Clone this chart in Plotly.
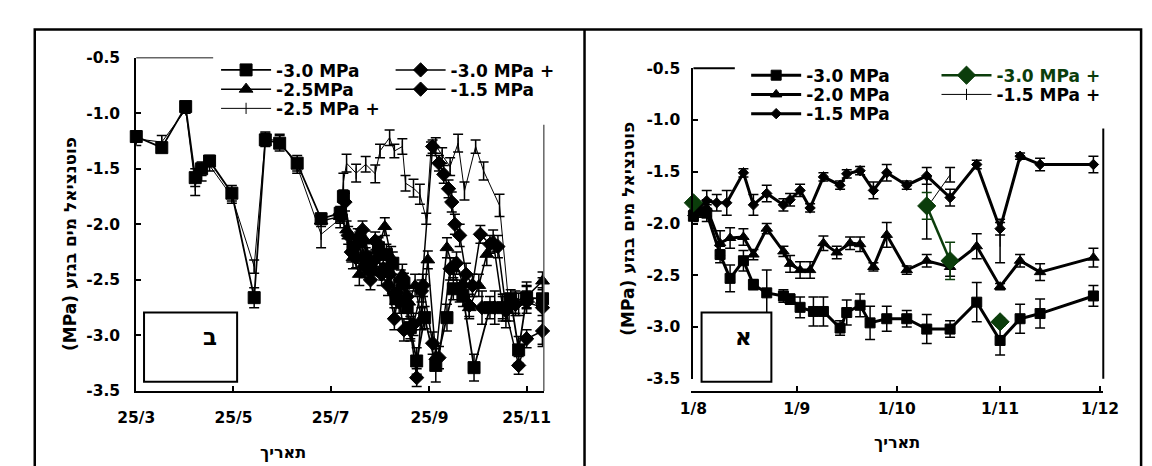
import plotly.graph_objects as go

W, H = 1152, 466
YEAR = "2005-"
FONT = "DejaVu Sans"
BLACK = "#000000"
GREEN = "#0b3d0b"


def px(x):
    return x / W


def py(y):
    return 1 - y / H


def d(lst):
    return [YEAR + s for s in lst]


# ---------------- axis ticks ----------------
y_ticks = [-0.5, -1.0, -1.5, -2.0, -2.5, -3.0, -3.5]
y_labels = ["-0.5", "-1.0", "-1.5", "-2.0", "-2.5", "-3.0", "-3.5"]
left_xticks = ["03-25", "05-25", "07-25", "09-25", "11-25"]
left_xlabels = ["25/3", "25/5", "25/7", "25/9", "25/11"]
right_xticks = ["08-01", "09-01", "10-01", "11-01", "12-01"]
right_xlabels = ["1/8", "1/9", "1/10", "1/11", "1/12"]

# ---------------- left panel (ב) ----------------
s1_name = "-3.0 MPa"
s1_dates = ["03-25", "04-10", "04-25", "05-01", "05-05", "05-10", "05-24", "06-07", "06-14", "06-23",
            "07-04", "07-19", "07-31", "08-02", "08-08", "08-12", "08-16", "08-19", "08-24", "08-29",
            "09-02", "09-04", "09-09", "09-11", "09-13", "09-17", "09-22", "09-29", "10-06", "10-10",
            "10-16", "10-23", "11-02", "11-10", "11-15", "11-20", "11-25", "12-05"]
s1_vals = [-1.21, -1.31, -0.94, -1.58, -1.50, -1.43, -1.72, -2.66, -1.24, -1.27,
           -1.45, -1.95, -1.90, -1.75, -2.21, -2.15, -2.30, -2.41, -2.21, -2.27,
           -2.35, -2.67, -2.53, -2.75, -2.93, -3.23, -2.84, -3.27, -2.84, -2.58,
           -2.64, -3.29, -2.75, -2.75, -2.67, -3.13, -2.66, -2.67]
s1_err = [0.05, 0.03, 0.03, 0.08, 0.06, 0.05, 0.07, 0.09, 0.06, 0.07,
          0.07, 0.05, 0.06, 0.06, 0.10, 0.08, 0.09, 0.10, 0.10, 0.09,
          0.10, 0.08, 0.09, 0.10, 0.10, 0.12, 0.10, 0.15, 0.12, 0.10,
          0.10, 0.12, 0.10, 0.10, 0.08, 0.12, 0.10, 0.10]

s2_name = "-2.5MPa"
s2_dates = ["07-19", "07-31", "08-04", "08-08", "08-12", "08-16", "08-20", "08-24", "08-28", "09-01",
            "09-05", "09-08", "09-12", "09-16", "09-20", "09-24", "09-29", "10-06", "10-10", "10-14",
            "10-20", "10-26", "10-31", "11-04", "11-10", "11-18", "11-25", "12-05"]
s2_vals = [-1.97, -1.93, -2.05, -2.30, -2.45, -2.15, -2.40, -2.20, -2.02, -2.30,
           -2.60, -2.45, -2.70, -2.55, -2.85, -2.32, -3.19, -2.21, -2.40, -2.60,
           -2.75, -2.55, -2.27, -2.15, -2.75, -2.70, -2.65, -2.51]
s2_err = [0.05, 0.06, 0.08, 0.10, 0.10, 0.09, 0.10, 0.08, 0.08, 0.10,
          0.10, 0.09, 0.10, 0.10, 0.10, 0.08, 0.10, 0.09, 0.10, 0.10,
          0.10, 0.10, 0.10, 0.10, 0.12, 0.10, 0.10, 0.08]

s3_name = "-2.5 MPa +"
s3_dates = ["03-25", "04-10", "04-25", "05-01", "05-05", "05-10", "05-24", "06-07", "06-14", "06-23",
            "07-04", "07-19", "07-31", "08-02", "08-04", "08-10", "08-16", "08-22", "08-25", "08-31",
            "09-03", "09-08", "09-10", "09-15", "09-19", "09-23", "09-26", "09-29", "10-03", "10-08",
            "10-13", "10-17", "10-24", "10-29", "11-08", "11-14", "11-20", "11-25", "12-05"]
s3_vals = [-1.23, -1.26, -0.97, -1.65, -1.55, -1.47, -1.75, -2.38, -1.23, -1.25,
           -1.48, -2.09, -1.95, -1.62, -1.45, -1.54, -1.46, -1.545, -1.34, -1.22,
           -1.34, -1.30, -1.63, -1.675, -1.73, -1.95, -1.32, -1.29, -1.38, -1.48,
           -1.27, -1.70, -1.30, -1.52, -1.83, -2.75, -2.72, -2.62, -2.78]
s3_err = [0.06, 0.06, 0.03, 0.09, 0.06, 0.05, 0.06, 0.06, 0.06, 0.06,
          0.06, 0.12, 0.08, 0.08, 0.08, 0.08, 0.07, 0.08, 0.06, 0.07,
          0.06, 0.07, 0.07, 0.08, 0.09, 0.05, 0.06, 0.07, 0.07, 0.08,
          0.08, 0.08, 0.06, 0.08, 0.10, 0.12, 0.10, 0.10, 0.30]

s4_name = "-3.0 MPa +"
s4_dates = ["07-31", "08-03", "08-07", "08-11", "08-15", "08-19", "08-23", "08-27", "08-31", "09-03",
            "09-06", "09-09", "09-13", "09-17", "09-21", "09-27", "10-01", "10-08", "10-12", "10-16",
            "10-20", "10-28", "11-05", "11-12", "11-20", "11-25", "12-05"]
s4_vals = [-1.91, -1.80, -2.25, -2.12, -2.38, -2.50, -2.30, -2.40, -2.45, -2.62,
           -2.70, -2.95, -2.95, -3.38, -2.55, -3.07, -3.20, -2.40, -2.35, -2.55,
           -2.73, -2.75, -2.75, -2.78, -3.27, -3.03, -2.96]
s4_err = [0.06, 0.08, 0.09, 0.08, 0.10, 0.09, 0.08, 0.10, 0.09, 0.10,
          0.10, 0.10, 0.10, 0.08, 0.10, 0.10, 0.10, 0.10, 0.10, 0.10,
          0.10, 0.15, 0.15, 0.15, 0.08, 0.08, 0.14]

s5_name = "-1.5 MPa"
s5_dates = ["07-31", "08-05", "08-10", "08-14", "08-18", "08-22", "08-26", "08-30", "09-03", "09-07",
            "09-11", "09-15", "09-20", "09-27", "10-01", "10-04", "10-07", "10-09", "10-11", "10-14",
            "10-18", "10-22", "10-27", "11-02", "11-07", "11-12", "11-18", "11-25", "12-05"]
s5_vals = [-1.92, -2.10, -2.30, -2.05, -2.35, -2.15, -2.45, -2.55, -2.85, -2.50,
           -2.65, -2.90, -2.60, -1.30, -1.45, -1.55, -1.68, -1.80, -2.00, -2.10,
           -2.45, -2.55, -2.09, -2.18, -2.20, -2.75, -2.72, -2.70, -2.75]
s5_err = [0.06, 0.08, 0.09, 0.08, 0.09, 0.08, 0.10, 0.09, 0.10, 0.09,
          0.10, 0.10, 0.10, 0.06, 0.07, 0.08, 0.08, 0.09, 0.09, 0.10,
          0.10, 0.10, 0.08, 0.08, 0.10, 0.12, 0.10, 0.10, 0.12]

# ---------------- right panel (א) ----------------
r1_name = "-3.0 MPa"
r1_dates = ["08-01", "08-03", "08-05", "08-09", "08-12", "08-16", "08-19", "08-23", "08-28", "08-30",
            "09-02", "09-06", "09-09", "09-14", "09-16", "09-20", "09-23", "09-28", "10-04", "10-10",
            "10-17", "10-25", "11-01", "11-07", "11-13", "11-29"]
r1_vals = [-1.93, -1.88, -1.90, -2.30, -2.53, -2.36, -2.59, -2.67, -2.70, -2.73,
           -2.81, -2.85, -2.85, -3.01, -2.86, -2.79, -2.96, -2.92, -2.92, -3.02,
           -3.02, -2.76, -3.13, -2.92, -2.87, -2.70]
r1_err = [0.05, 0.06, 0.08, 0.08, 0.13, 0.10, 0.05, 0.22, 0.06, 0.05,
          0.10, 0.14, 0.14, 0.07, 0.12, 0.11, 0.16, 0.12, 0.08, 0.14,
          0.08, 0.19, 0.14, 0.14, 0.14, 0.10]

r2_name = "-2.0 MPa"
r2_dates = ["08-01", "08-05", "08-09", "08-12", "08-16", "08-19", "08-23", "08-28", "08-30", "09-02",
            "09-05", "09-09", "09-13", "09-17", "09-20", "09-24", "09-28", "10-04", "10-10", "10-17",
            "10-25", "11-01", "11-07", "11-13", "11-29"]
r2_vals = [-1.90, -1.85, -2.19, -2.14, -2.13, -2.30, -2.05, -2.27, -2.39, -2.45,
           -2.45, -2.19, -2.28, -2.19, -2.20, -2.42, -2.11, -2.45, -2.36, -2.42,
           -2.22, -2.61, -2.36, -2.47, -2.33]
r2_err = [0.05, 0.08, 0.12, 0.10, 0.08, 0.05, 0.05, 0.05, 0.08, 0.08,
          0.08, 0.07, 0.06, 0.06, 0.07, 0.04, 0.12, 0.04, 0.06, 0.09,
          0.12, 0.03, 0.06, 0.08, 0.09]

r3_name = "-1.5 MPa"
r3_dates = ["08-01", "08-05", "08-08", "08-11", "08-16", "08-19", "08-23", "08-28", "08-30", "09-02",
            "09-05", "09-09", "09-14", "09-16", "09-20", "09-24", "09-28", "10-04", "10-10", "10-17",
            "10-25", "11-01", "11-07", "11-13", "11-29"]
r3_vals = [-1.88, -1.78, -1.80, -1.80, -1.51, -1.82, -1.71, -1.82, -1.77, -1.68,
           -1.85, -1.55, -1.63, -1.52, -1.49, -1.68, -1.51, -1.63, -1.54, -1.75,
           -1.43, -2.05, -1.35, -1.43, -1.43]
r3_err = [0.05, 0.10, 0.08, 0.12, 0.04, 0.10, 0.08, 0.06, 0.06, 0.06,
          0.04, 0.04, 0.04, 0.04, 0.04, 0.08, 0.08, 0.04, 0.08, 0.08,
          0.04, 0.06, 0.03, 0.06, 0.08]

r4_name = "-3.0 MPa +"
r4_dates = ["08-01", "09-01", "10-10", "10-17", "10-25", "11-01"]
r4_vals = [-1.80, None, -1.83, -2.36, None, -2.95]
r4_err = [0.02, 0.0, 0.13, 0.18, 0.0, 0.04]

r5_name = "-1.5 MPa +"
r5_dates = ["08-01", "09-01", "10-10", "10-17", "10-25", "11-01"]
r5_vals = [-1.80, None, -1.85, -1.53, None, -2.17]
r5_err = [0.03, 0.0, 0.30, 0.07, 0.0, 0.21]


def tr(dates, vals, err, name, axis, legend, symbol, msize, lwidth, color=BLACK, ewidth=5):
    return go.Scatter(
        x=d(dates), y=vals, name=name, mode="lines+markers",
        xaxis="x" + axis, yaxis="y" + axis, legend=legend,
        line=dict(color=color, width=lwidth),
        marker=dict(symbol=symbol, size=msize, color=color, line=dict(color=color, width=1)),
        error_y=dict(type="data", array=err, visible=True, color=color, thickness=1.5, width=ewidth),
        connectgaps=False, cliponaxis=False,
    )


traces = [
    tr(s3_dates, s3_vals, s3_err, s3_name, "", "legend3", "line-ns", 8, 1.0),
    tr(s5_dates, s5_vals, s5_err, s5_name, "", "legend5", "diamond", 11, 1.5),
    tr(s4_dates, s4_vals, s4_err, s4_name, "", "legend4", "diamond", 11, 1.5),
    tr(s2_dates, s2_vals, s2_err, s2_name, "", "legend2", "triangle-up", 12, 1.5),
    tr(s1_dates, s1_vals, s1_err, s1_name, "", "legend", "square", 12, 1.8),
    tr(r5_dates, r5_vals, r5_err, r5_name, "2", "legend10", "line-ns", 8, 1.0),
    tr(r2_dates, r2_vals, r2_err, r2_name, "2", "legend7", "triangle-up", 10, 3.0),
    tr(r3_dates, r3_vals, r3_err, r3_name, "2", "legend8", "diamond", 8, 3.0),
    tr(r1_dates, r1_vals, r1_err, r1_name, "2", "legend6", "square", 10, 3.0),
    tr(r4_dates, r4_vals, r4_err, r4_name, "2", "legend9", "diamond", 14, 2.5, color=GREEN),
]

fig = go.Figure(traces)

tickfont = dict(family=FONT, size=15.5, color=BLACK, weight="bold")


def xax(dom, rng, tv, tt, standoff):
    return dict(domain=dom, type="date", range=rng, tickvals=d(tv), ticktext=tt,
                ticks="inside", ticklen=5, tickwidth=1.5, tickcolor=BLACK,
                showline=True, linewidth=2, linecolor=BLACK, showgrid=False, zeroline=False,
                tickfont=tickfont, ticklabelstandoff=standoff, fixedrange=True)


def yax(dom, anchor, standoff):
    return dict(domain=dom, range=[-3.5, -0.5], tickvals=y_ticks, ticktext=y_labels,
                ticks="inside", ticklen=5, tickwidth=1.5, tickcolor=BLACK,
                showline=True, linewidth=2, linecolor=BLACK, showgrid=False, zeroline=False,
                tickfont=tickfont, ticklabelstandoff=standoff, anchor=anchor, fixedrange=True)


L_X0, L_X1, L_Y0, L_Y1 = 112.7, 533.0, 42.3, 389.0
R_X0, R_X1, R_Y0, R_Y1 = 687.3, 1110.0, 53.3, 376.3

legfont = dict(family=FONT, size=17, color=BLACK, weight="bold")


def leg(xline, yrow, color=BLACK):
    f = dict(legfont)
    f["color"] = color
    return dict(x=px(xline - 5), y=py(yrow), xanchor="left", yanchor="middle",
                bgcolor="rgba(0,0,0,0)", borderwidth=0, font=f, itemwidth=50,
                tracegroupgap=0)


shapes = []


def line(x0, y0, x1, y1, color=BLACK, width=2):
    shapes.append(dict(type="line", xref="paper", yref="paper", x0=px(x0), y0=py(y0),
                       x1=px(x1), y1=py(y1), line=dict(color=color, width=width)))


def box(x0, y0, x1, y1):
    shapes.append(dict(type="rect", xref="paper", yref="paper", x0=px(x0), y0=py(y0),
                       x1=px(x1), y1=py(y1), line=dict(color=BLACK, width=2),
                       fillcolor="white", layer="above"))


# outer frame and divider
shapes.append(dict(type="rect", xref="paper", yref="paper", x0=px(8), y0=py(472), x1=px(1149), y1=py(13),
                   line=dict(color=BLACK, width=2.5), fillcolor="rgba(0,0,0,0)"))
line(575, 13, 575, 470, width=2.5)
# partial frame lines of the plots
line(L_X0, L_Y0, 192, L_Y0, color="#666666", width=1.5)
line(L_X1, 112, L_X1, L_Y1, color="#666666", width=1.5)
line(R_X0, R_Y0, 730, R_Y0, width=2)
line(R_X1, 116, R_X1, R_Y1, width=2)
# panel label boxes
box(120.7, 307.3, 216.7, 379.3)
box(695.7, 307.3, 767.7, 379.3)

ann_font = dict(family=FONT, size=16, color=BLACK, weight="bold")
ytitle_font = dict(family=FONT, size=17, color=BLACK, weight="bold")
annotations = [
    dict(text="תאריך", x=px(264.5), y=py(453), xref="paper", yref="paper", showarrow=False,
         font=ann_font, xanchor="center", yanchor="middle"),
    dict(text="תאריך", x=px(897), y=py(443), xref="paper", yref="paper", showarrow=False,
         font=ann_font, xanchor="center", yanchor="middle"),
    dict(text="(MPa) פוטנציאל מים בגזע", x=px(44.4), y=py(236), xref="paper", yref="paper",
         showarrow=False, font=ytitle_font, textangle=-90, xanchor="center", yanchor="middle"),
    dict(text="(MPa) פוטנציאל מים בגזע", x=px(619), y=py(220), xref="paper", yref="paper",
         showarrow=False, font=ytitle_font, textangle=-90, xanchor="center", yanchor="middle"),
    dict(text="ב", x=px(189), y=py(333), xref="paper", yref="paper", showarrow=False,
         font=dict(family=FONT, size=23, color=BLACK, weight="bold"), xanchor="center", yanchor="middle"),
    dict(text="א", x=px(739.3), y=py(333), xref="paper", yref="paper", showarrow=False,
         font=dict(family=FONT, size=23, color=BLACK, weight="bold"), xanchor="center", yanchor="middle"),
]

fig.update_layout(
    width=W, height=H, margin=dict(l=0, r=0, t=0, b=0),
    paper_bgcolor="white", plot_bgcolor="white", showlegend=True,
    font=dict(family=FONT, color=BLACK),
    xaxis=xax([px(L_X0), px(L_X1)], [YEAR + "03-25", YEAR + "12-05 19:00"], left_xticks, left_xlabels, 11),
    yaxis=yax([py(L_Y1), py(L_Y0)], "x", 11),
    xaxis2=xax([px(R_X0), px(R_X1)], [YEAR + "08-01", YEAR + "12-01 23:00"], right_xticks, right_xlabels, 2),
    yaxis2=yax([py(R_Y1), py(R_Y0)], "x2", 8),
    legend=leg(200, 55.5),
    legend2=leg(200, 75.5),
    legend3=leg(200, 95.5),
    legend4=leg(380, 55.5),
    legend5=leg(380, 75.5),
    legend6=leg(746.7, 61.0),
    legend7=leg(746.7, 81.0),
    legend8=leg(746.7, 101.0),
    legend9=leg(943, 61.0, color=GREEN),
    legend10=leg(943, 81.0),
    shapes=shapes,
    annotations=annotations,
)

fig.write_html("out.html")
